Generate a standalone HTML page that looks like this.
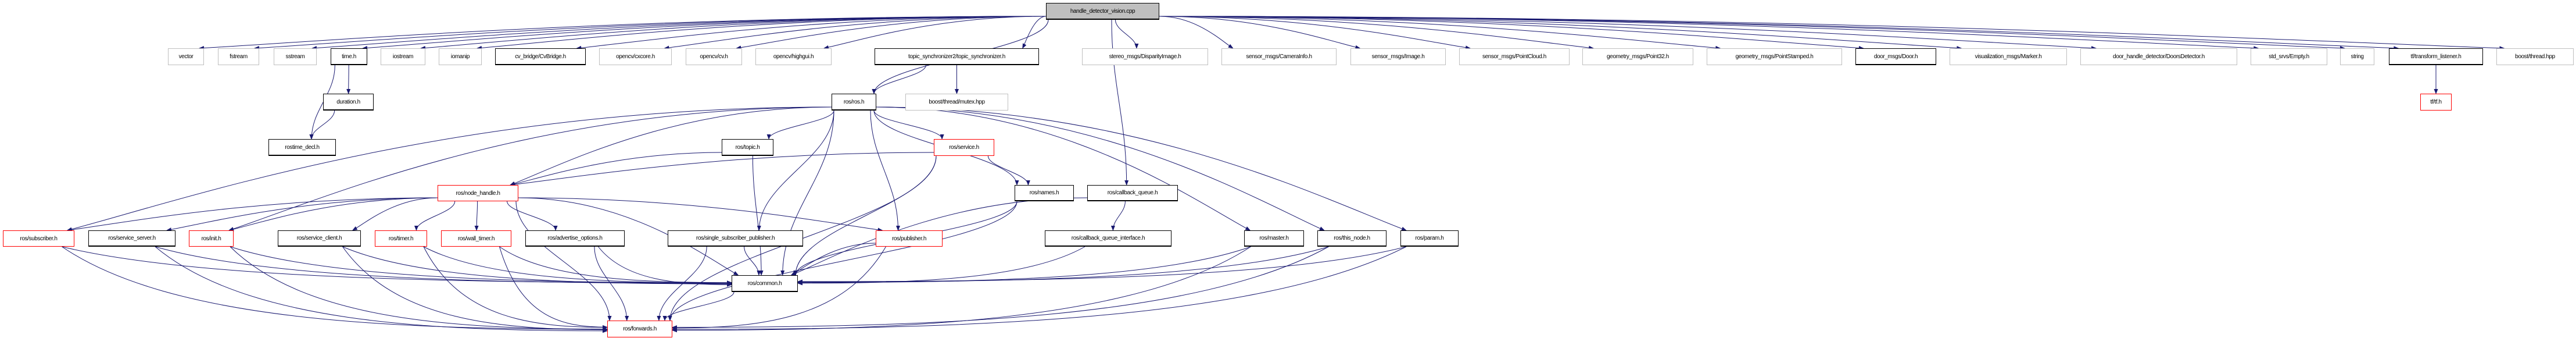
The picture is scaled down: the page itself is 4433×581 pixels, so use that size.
<!DOCTYPE html>
<html><head><meta charset="utf-8">
<style>
html,body{margin:0;padding:0;background:#fff;}
#c{position:relative;width:4433px;height:581px;overflow:hidden;}
.n{position:absolute;box-sizing:border-box;background:#fff;font-family:"Liberation Sans",sans-serif;font-size:10px;letter-spacing:-0.4px;color:#000;text-align:center;white-space:nowrap;display:flex;align-items:center;justify-content:center;}
.g{border:1px solid #bfbfbf;}
.b{border:1px solid #000;border-bottom:2px solid #000;}
.r{border:1px solid #f00;}
svg{position:absolute;left:0;top:0;}
</style></head><body><div id="c">
<svg id="s" width="4433" height="581"><defs><marker id="a" markerWidth="9" markerHeight="7" refX="8" refY="3.5" orient="auto" markerUnits="userSpaceOnUse"><path d="M0,0 L9,3.5 L0,7 z" fill="#191970"/></marker></defs><g id="e" fill="none" stroke="#191970" stroke-width="1"></g></svg>
<div id="nodes"></div>
</div>
<script>
var R={0:[5,34],1:[83,112],2:[161,190],3:[239,268],4:[318,346],5:[396,424],6:[473,502],7:[551,580]};
var N={
root:[1800,1995,0,'handle_detector_vision.cpp','root'],
vector:[289,351,1,'vector','g'],fstream:[375,446,1,'fstream','g'],sstream:[471,545,1,'sstream','g'],
time:[569,632,1,'time.h','b'],iostream:[655,732,1,'iostream','g'],iomanip:[755,829,1,'iomanip','g'],
cvb:[852,1008,1,'cv_bridge/CvBridge.h','b'],cxcore:[1031,1156,1,'opencv/cxcore.h','g'],cv:[1180,1277,1,'opencv/cv.h','g'],
highgui:[1300,1431,1,'opencv/highgui.h','g'],tsync:[1505,1788,1,'topic_synchronizer2/topic_synchronizer.h','b'],
disp:[1862,2079,1,'stereo_msgs/DisparityImage.h','g'],caminfo:[2102,2300,1,'sensor_msgs/CameraInfo.h','g'],
image:[2324,2488,1,'sensor_msgs/Image.h','g'],pcl:[2511,2701,1,'sensor_msgs/PointCloud.h','g'],
p32:[2723,2914,1,'geometry_msgs/Point32.h','g'],pst:[2937,3170,1,'geometry_msgs/PointStamped.h','g'],
door:[3193,3332,1,'door_msgs/Door.h','b'],marker:[3355,3557,1,'visualization_msgs/Marker.h','g'],
dd:[3580,3850,1,'door_handle_detector/DoorsDetector.h','g'],empty:[3873,4005,1,'std_srvs/Empty.h','g'],
string:[4027,4086,1,'string','g'],tfl:[4111,4273,1,'tf/transform_listener.h','b'],bth:[4296,4429,1,'boost/thread.hpp','g'],
duration:[556,643,2,'duration.h','b'],ros:[1431,1508,2,'ros/ros.h','b'],mutex:[1558,1735,2,'boost/thread/mutex.hpp','g'],tf:[4165,4219,2,'tf/tf.h','r'],
rostime:[462,578,3,'rostime_decl.h','b'],topic:[1242,1331,3,'ros/topic.h','b'],service:[1607,1711,3,'ros/service.h','r'],
nh:[753,892,4,'ros/node_handle.h','r'],names:[1746,1848,4,'ros/names.h','b'],cbq:[1871,2027,4,'ros/callback_queue.h','b'],
sub:[5,128,5,'ros/subscriber.h','r'],ssrv:[152,302,5,'ros/service_server.h','b'],init:[325,402,5,'ros/init.h','r'],
scl:[478,621,5,'ros/service_client.h','b'],timer:[645,735,5,'ros/timer.h','r'],wtimer:[759,880,5,'ros/wall_timer.h','r'],
adv:[904,1075,5,'ros/advertise_options.h','b'],ssp:[1149,1382,5,'ros/single_subscriber_publisher.h','b'],
pub:[1507,1622,5,'ros/publisher.h','r'],cbqi:[1798,2016,5,'ros/callback_queue_interface.h','b'],
master:[2141,2244,5,'ros/master.h','b'],thisn:[2267,2386,5,'ros/this_node.h','b'],param:[2410,2510,5,'ros/param.h','b'],
common:[1259,1373,6,'ros/common.h','b'],fwd:[1045,1157,7,'ros/forwards.h','r']};
var E=[];
['vector','fstream','sstream','time','iostream','iomanip','cvb','cxcore','cv','highgui','tsync','disp','caminfo','image','pcl','p32','pst','door','marker','dd','empty','string','tfl','bth','ros','cbq'].forEach(function(t){E.push(['root',t]);});
E.push(['time','duration'],['time','rostime'],['duration','rostime'],['tsync','ros'],['tsync','mutex'],['tfl','tf']);
['nh','sub','init','topic','ssp','common','pub','service','names','master','thisn','param'].forEach(function(t){E.push(['ros',t]);});
E.push(['topic','nh'],['topic','common'],['service','nh'],['service','names'],['service','common'],['service','fwd']);
['sub','ssrv','init','scl','timer','wtimer','adv','pub','common','fwd'].forEach(function(t){E.push(['nh',t]);});
E.push(['names','common'],['names','fwd'],['cbq','cbqi'],['cbq','common'],['cbqi','common']);
['sub','ssrv','init','scl','timer','wtimer','adv','ssp','pub','master','thisn','param'].forEach(function(t){E.push([t,'common'],[t,'fwd']);});
E.push(['common','fwd']);
var h='';
for(var k in N){var n=N[k],y=R[n[2]];var cls=n[4]=='root'?'b':n[4];var st='left:'+n[0]+'px;top:'+y[0]+'px;width:'+(n[1]-n[0])+'px;height:'+(y[1]-y[0])+'px;';if(n[4]=='root')st+='background:#bfbfbf;';h+='<div class="n '+cls+'" style="'+st+'">'+n[3]+'</div>';}
document.getElementById('nodes').innerHTML=h;
var p='';
E.forEach(function(e){var A=N[e[0]],B=N[e[1]];var ay=R[A[2]],by=R[B[2]];
var acx=(A[0]+A[1])/2,bcx=(B[0]+B[1])/2;
var sx,sy,ex,ey;ey=by[0];
var dx=bcx-acx,dy=ey-ay[1];
if((e[1]=='common'||e[1]=='fwd')&&Math.abs(dx)>250&&A[2]>=5){
 sx=acx+(dx<0?-1:1)*Math.min((A[1]-A[0])/2-6,40);sy=ay[1];
 ex=dx>0?B[0]:B[1];ey=(by[0]+by[1])/2+(Math.random()*8-4);
 p+='<path marker-end="url(#a)" d="M'+sx+','+sy+' C'+(sx+(ex-sx)*0.2)+','+(sy+(ey-sy)*0.9)+' '+(ex-(ex-sx)*0.4)+','+ey+' '+ex+','+ey+'"/>';return;}
if(Math.abs(dx)>3*dy+100){sx=dx<0?A[0]:A[1];sy=ay[1]-6;
ex=dx<0?Math.min(B[1]-8,bcx+ (B[1]-B[0])*0.4):Math.max(B[0]+8,bcx-(B[1]-B[0])*0.4);
p+='<path marker-end="url(#a)" d="M'+sx+','+sy+' C'+(sx+(ex-sx)*0.5)+','+sy+' '+(ex-(ex-sx)*0.15)+','+(ey-dy*0.25)+' '+ex+','+ey+'"/>';}
else{var hw=(A[1]-A[0])/2-4,hb=(B[1]-B[0])/2-4;sx=acx+Math.max(-hw,Math.min(hw,dx*0.3));sy=ay[1];
ex=bcx+Math.max(-hb,Math.min(hb,-dx*0.2));
p+='<path marker-end="url(#a)" d="M'+sx+','+sy+' C'+sx+','+(sy+dy*0.4)+' '+ex+','+(ey-dy*0.4)+' '+ex+','+ey+'"/>';}
});
document.getElementById('e').innerHTML=p;
</script>
</body></html>
